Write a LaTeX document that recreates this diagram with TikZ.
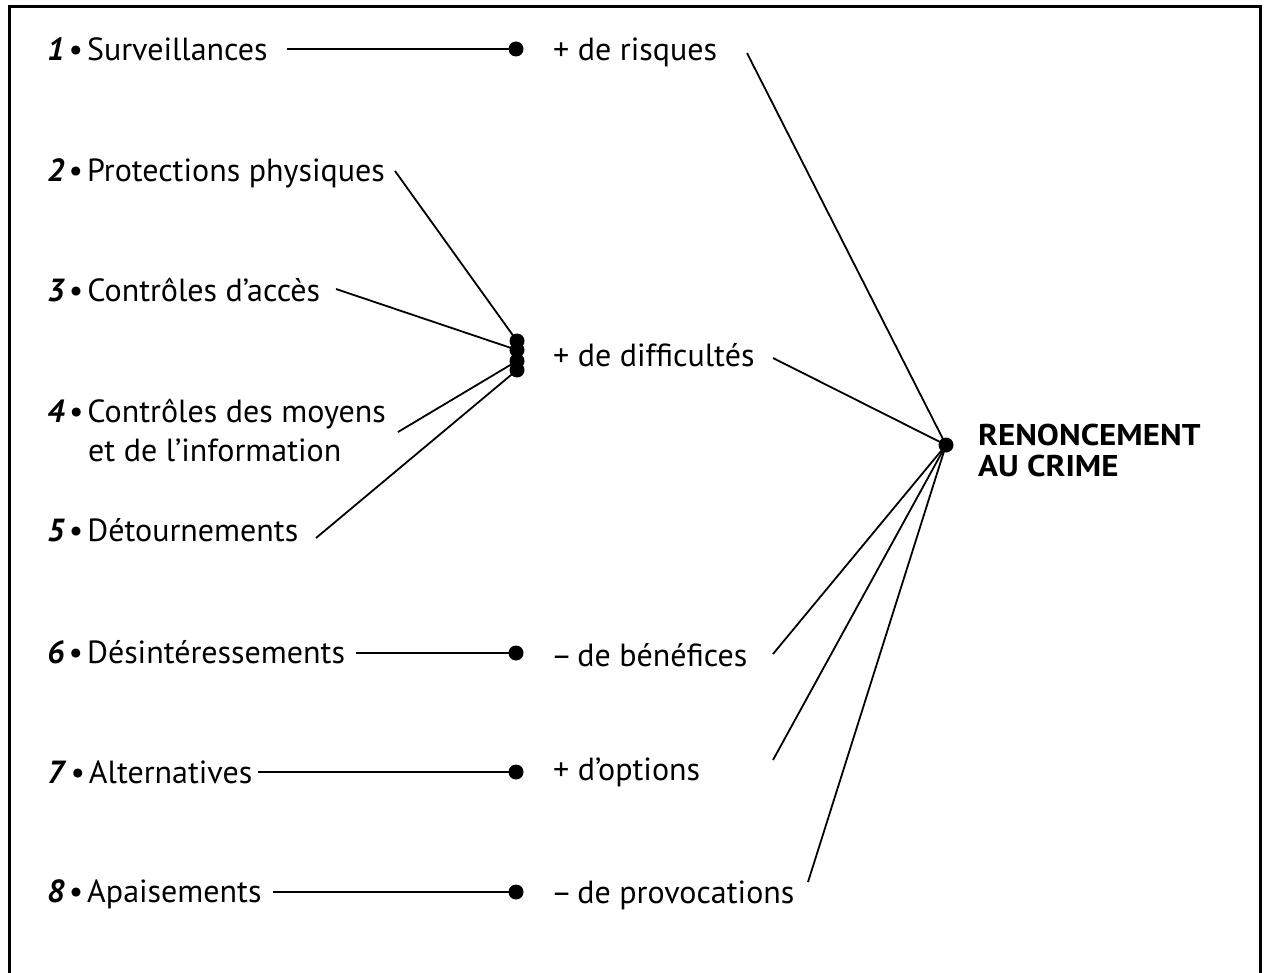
\documentclass[tikz,border=0pt]{standalone}
\usepackage{fontspec}
\setmainfont{PT Sans}
\newfontfamily\goalfont[FakeStretch=1.1]{PT Sans Bold}
\begin{document}
\begin{tikzpicture}[x=1pt,y=-1pt,
  lbl/.style={inner sep=0pt,anchor=base west,font=\fontsize{32}{38}\selectfont},
  big/.style={inner sep=0pt,anchor=base west,font=\goalfont\fontsize{30}{36}\selectfont},
  dotn/.style={circle,fill=black,inner sep=0pt,minimum size=15pt},
  link/.style={line width=1.8pt},
  frame/.style={line width=3pt}]
\useasboundingbox (0,0) rectangle (1268,973);
\draw[frame] (9,973) -- (9,7) -- (1260.5,7) -- (1260.5,973);
\newcommand{\num}[1]{\textbf{\textit{#1}}\kern4pt•\kern4pt}
% left labels
\node[lbl] (l1) at (47,61) {\num{1}Surveillances};
\node[lbl] (l2) at (47,182) {\num{2}Protections physiques};
\node[lbl] (l3) at (47,302) {\num{3}Contrôles d’accès};
\node[lbl] (l4) at (47,422) {\num{4}Contrôles des moyens};
\node[lbl] (l4b) at (88,461) {et de l’information};
\node[lbl] (l5) at (47,541) {\num{5}Détournements};
\node[lbl] (l6) at (47,663) {\num{6}Désintéressements};
\node[lbl] (l7) at (47,783) {\num{7}Alternatives};
\node[lbl] (l8) at (47,902) {\num{8}Apaisements};
% right labels
\node[lbl] (r1) at (553,61) {+ de risques};
\node[lbl] (r2) at (553,366) {+ de difficultés};
\node[lbl] (r3) at (551,666) {–\kern5pt de bénéfices};
\node[lbl] (r4) at (553,780) {+ d’options};
\node[lbl] (r5) at (551,903) {–\kern5pt de provocations};
\node[big] (goal) at (978,445) {RENONCEMENT};
\node[big] (goalb) at (978,476) {AU CRIME};
% dots
\node[dotn] (d1) at (516,49) {};
\node[dotn] (d2a) at (517,341) {};
\node[dotn] (d2b) at (517,350) {};
\node[dotn] (d2c) at (517,361) {};
\node[dotn] (d2d) at (517,370) {};
\node[dotn] (d6) at (516,653) {};
\node[dotn] (d7) at (516,772) {};
\node[dotn] (d8) at (516,892) {};
\node[dotn] (c) at (946,445) {};
% free ends
\coordinate (s1) at (287,49);
\coordinate (s2) at (395,171);
\coordinate (s3) at (336,289);
\coordinate (s4) at (398,432);
\coordinate (s5) at (316,538);
\coordinate (s6) at (356,653);
\coordinate (s7) at (258,772);
\coordinate (s8) at (273,892);
\coordinate (e1) at (747,53);
\coordinate (e2) at (773,358);
\coordinate (e3) at (773,654);
\coordinate (e4) at (773,760);
\coordinate (e5) at (808,882);
\draw[link] (s1) -- (d1.center);
\draw[link] (s2) -- (d2a.center);
\draw[link] (s3) -- (d2b.center);
\draw[link] (s4) -- (d2c.center);
\draw[link] (s5) -- (d2d.center);
\draw[link] (s6) -- (d6.center);
\draw[link] (s7) -- (d7.center);
\draw[link] (s8) -- (d8.center);
\foreach \e in {e1,e2,e3,e4,e5} \draw[link] (\e) -- (c.center);
\end{tikzpicture}
\end{document}
